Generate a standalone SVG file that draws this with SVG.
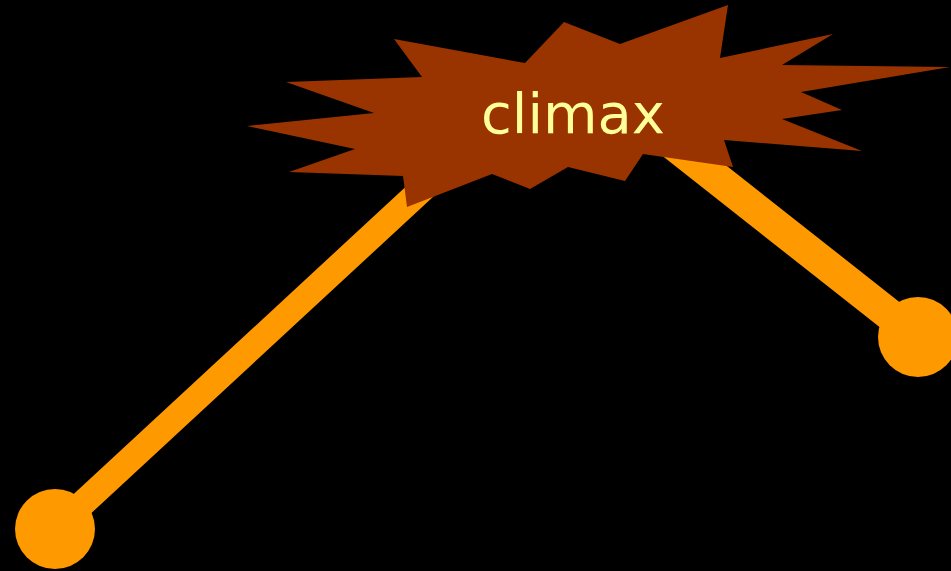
<svg xmlns="http://www.w3.org/2000/svg" width="951" height="571" viewBox="0 0 951 571">
<style>
.conn{fill:none;stroke:#ff9900;stroke-linecap:round}
.dot{fill:#ff9900}
.burst{fill:#993300}
.lbl{font-family:"DejaVu Sans",Verdana,sans-serif;font-size:56px;fill:#ffff99;text-anchor:middle}
</style>
<rect width="951" height="571" fill="#000"/>
<g id="connectors">
<line class="conn" x1="55" y1="529" x2="564" y2="58" stroke-width="26"/>
<line class="conn" x1="564" y1="58" x2="918" y2="337" stroke-width="32"/>
</g>
<g id="start"><circle class="dot" cx="55" cy="529" r="40"/></g>
<g id="end"><circle class="dot" cx="918" cy="337" r="40"/></g>
<g id="climax">
<polygon class="burst" points="394,39 525,63 564,22 620,44 728,5 720,58 833,34 782,65 950,67 801,92 842,110 782,119 862,151 724,140 733,167 643,154 625,181 568,167 530,189 492,174 407,207 403,176 289,172 355,149 247,126 374,113 286,82 422,77"/>
<text class="lbl" x="573" y="133">climax</text>
</g>
</svg>
